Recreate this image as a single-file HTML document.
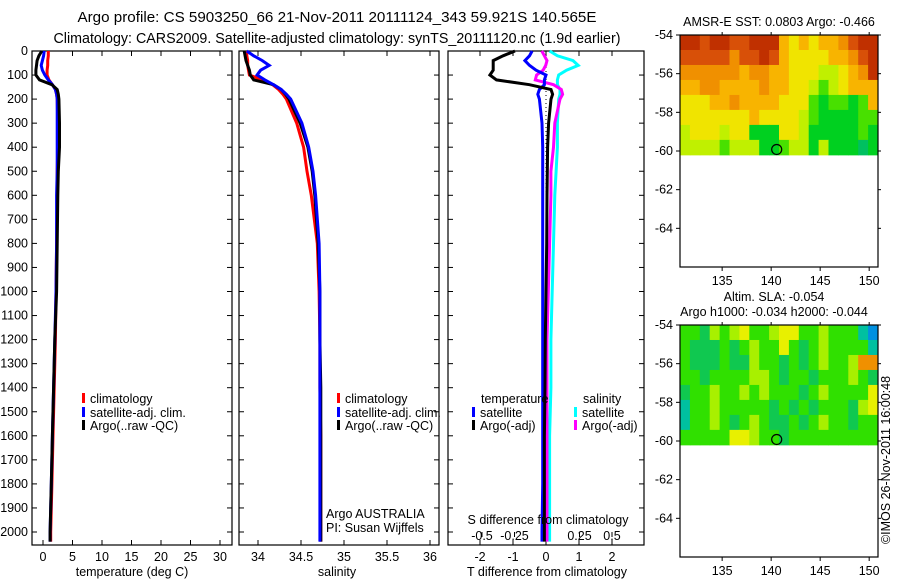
<!DOCTYPE html>
<html><head><meta charset="utf-8"><style>
body{margin:0;background:#fff;}
svg{display:block;font-family:"Liberation Sans",sans-serif;font-size:12px;}
</style></head><body>
<svg id="s" width="900" height="580" viewBox="0 0 900 580">
<rect width="900" height="580" fill="#fff"/>
<text x="337" y="22" text-anchor="middle" font-size="14.5" textLength="519" lengthAdjust="spacingAndGlyphs">Argo profile: CS 5903250_66 21-Nov-2011 20111124_343 59.921S 140.565E</text>
<text x="337" y="43" text-anchor="middle" font-size="14.5" textLength="567" lengthAdjust="spacingAndGlyphs">Climatology: CARS2009. Satellite-adjusted climatology: synTS_20111120.nc (1.9d earlier)</text>
<g id="g"></g>
</svg>
<script>
const depths=[0,20,40,60,80,100,120,140,160,180,200,300,400,500,600,800,1000,1200,1400,1600,1800,2000,2040];
const climT=[0.9,0.9,0.8,0.8,0.7,0.7,1.0,1.6,2.1,2.3,2.4,2.5,2.5,2.4,2.4,2.3,2.2,2.1,1.9,1.7,1.5,1.3,1.3];
const satT=[0.2,0.1,-0.1,-0.3,-0.1,0.3,0.9,1.6,2.1,2.3,2.4,2.4,2.4,2.4,2.3,2.3,2.2,2.0,1.8,1.6,1.4,1.2,1.2];
const argoT=[-0.2,-0.7,-1.0,-1.1,-1.2,-1.2,-0.6,1.5,2.4,2.6,2.7,2.8,2.8,2.6,2.5,2.4,2.3,2.0,1.8,1.6,1.4,1.2,1.2];
const climS=[33.87,33.87,33.88,33.88,33.89,33.90,34.05,34.17,34.24,34.29,34.33,34.45,34.53,34.57,34.62,34.69,34.71,34.72,34.72,34.73,34.73,34.73,34.73];
const satS=[33.87,33.95,34.05,34.13,34.03,33.99,34.08,34.18,34.27,34.33,34.38,34.51,34.59,34.64,34.67,34.71,34.72,34.72,34.72,34.72,34.72,34.72,34.72];
const argoS=[33.84,33.85,33.86,33.88,33.90,33.91,33.95,34.18,34.27,34.32,34.36,34.49,34.58,34.63,34.66,34.70,34.72,34.72,34.73,34.73,34.73,34.73,34.73];
const dTargo=[-0.94,-1.3,-1.6,-1.6,-1.6,-1.7,-1.5,-0.5,0.15,0.2,0.15,0.08,0.05,0.04,0.03,0.02,0.0,-0.02,-0.03,-0.05,-0.05,-0.05,-0.05];
const dTsat=[-0.42,-0.5,-0.64,-0.5,-0.3,0.0,-0.05,-0.05,-0.2,-0.25,-0.2,-0.12,-0.1,-0.1,-0.1,-0.1,-0.1,-0.1,-0.1,-0.1,-0.1,-0.12,-0.12];
const dSargo=[-0.04,-0.02,0.0,-0.01,-0.03,-0.08,-0.09,0.05,0.11,0.12,0.1,0.06,0.05,0.03,0.03,0.02,0.01,0.0,0.0,0.0,0.0,0.0,0.0];
const dSsat=[0.02,0.08,0.2,0.24,0.15,0.09,0.08,0.08,0.1,0.1,0.09,0.08,0.08,0.07,0.06,0.05,0.04,0.03,0.03,0.02,0.02,0.02,0.02];
const depthTicks=[0,100,200,300,400,500,600,700,800,900,1000,1100,1200,1300,1400,1500,1600,1700,1800,1900,2000];
const tTicks=[0,5,10,15,20,25,30];
const sTicks=[34,34.5,35,35.5,36];
const sTickLbl=["34","34.5","35","35.5","36"];
const dtTicks=[-2,-1,0,1,2];
const dsTicks=[-0.5,-0.25,0,0.25,0.5];
const dsTickLbl=["-0.5","-0.25","0","0.25","0.5"];
const latTicks=[-54,-56,-58,-60,-62,-64];
const lonTicks=[135,140,145,150];
const sstRows=["DDRDDRRDDDAYAYAAORDD","RRRRRORRDRAYYYYAAORD","OOOOOOAOOAAYYYLLYAOD","AAOOAAAAOAAYYLGLYAAA","YYYAAOAAAAYYYGgGGgGA","YYYYYYYAYYYYLGggggGG","LYYYLYYgggYYLgggggGg","LLLLGLLLggGLLgLgggTg"];
const slaRows=["GGgLGLYGGLYYGGLGGGCB","GgggGgGLGGYGgGLGGGGC","GgggGggLGGgGgGLGGLOO","GGgGGGGLLGgGGgGGGLGg","gGGLGGLGLGGGgGLGGGGY","CGGLGGGGGgGgGgGGGgLY","CGGLGgGLGggGgGLGGgGG","GGGGGYYLGGgGGGGGGGGG"];
const sstCol={D:"#c03000",R:"#d85008",O:"#f09000",A:"#f8b400",Y:"#f0e400",L:"#c0f000",G:"#48e000",g:"#00d020",T:"#00c060"};
const slaCol={G:"#30e000",g:"#10c850",L:"#a8f000",Y:"#e8f000",O:"#f09000",B:"#0090e0",C:"#00c0a0"};
const argoLon=140.565, argoLat=-59.921;

const NS="http://www.w3.org/2000/svg", G=document.getElementById('g');
function el(t,a,txt){const e=document.createElementNS(NS,t);for(const k in a)e.setAttribute(k,a[k]);if(txt!==undefined)e.textContent=txt;G.appendChild(e);return e;}
const TOP=51,BOT=545;
const yD=d=>TOP+d*0.2405;
const xT=v=>43+v*5.9;
const xS=v=>258+(v-34)*86;
const xDT=v=>546+v*33;
const xDS=v=>547+v*130;
function line(xf,vals,col,name){
  const pts=vals.map((v,i)=>xf(v).toFixed(1)+","+yD(depths[i]).toFixed(1)).join(" ");
  const p=el('polyline',{points:pts,fill:'none',stroke:col,'stroke-width':3});
  
  
}
function frame(x0,x1,name){
  const r=el('rect',{x:x0,y:TOP,width:x1-x0,height:BOT-TOP,fill:'none',stroke:'#000','stroke-width':1.2});
  
  
  depthTicks.forEach(d=>{el('line',{x1:x0,x2:x0+5,y1:yD(d),y2:yD(d),stroke:'#000'});el('line',{x1:x1,x2:x1-5,y1:yD(d),y2:yD(d),stroke:'#000'});});
}
frame(32,232,'temperature-panel');
depthTicks.forEach(d=>{const t=el('text',{x:28,y:yD(d)+4,'text-anchor':'end','font-size':12.5},String(d));

});
tTicks.forEach(v=>{el('line',{x1:xT(v),x2:xT(v),y1:BOT,y2:BOT-5,stroke:'#000'});el('line',{x1:xT(v),x2:xT(v),y1:TOP,y2:TOP+5,stroke:'#000'});
const t=el('text',{x:xT(v),y:561,'text-anchor':'middle','font-size':12.5},String(v));

});
line(xT,climT,'#f00','temp-climatology-line');
line(xT,satT,'#00f','temp-satellite-line');
line(xT,argoT,'#000','temp-argo-line');
frame(239,439,'salinity-panel');
sTicks.forEach((v,i)=>{el('line',{x1:xS(v),x2:xS(v),y1:BOT,y2:BOT-5,stroke:'#000'});el('line',{x1:xS(v),x2:xS(v),y1:TOP,y2:TOP+5,stroke:'#000'});
const t=el('text',{x:xS(v),y:561,'text-anchor':'middle','font-size':12.5},sTickLbl[i]);

});
line(xS,climS,'#f00','sal-climatology-line');
line(xS,argoS,'#000','sal-argo-line');
line(xS,satS,'#00f','sal-satellite-line');
frame(448,644,'difference-panel');
el('line',{x1:xDT(0),x2:xDT(0),y1:TOP,y2:BOT,stroke:'#000','stroke-dasharray':'1,3'});
dtTicks.forEach(v=>{el('line',{x1:xDT(v),x2:xDT(v),y1:BOT,y2:BOT-5,stroke:'#000'});el('line',{x1:xDT(v),x2:xDT(v),y1:TOP,y2:TOP+5,stroke:'#000'});
const t=el('text',{x:xDT(v),y:561,'text-anchor':'middle','font-size':12.5},String(v));

});
dsTicks.forEach((v,i)=>{el('line',{x1:xDS(v),x2:xDS(v),y1:BOT-13,y2:BOT-8,stroke:'#000'});
const t=el('text',{x:xDS(v),y:540,'text-anchor':'middle','font-size':12.5},dsTickLbl[i]);

});
line(xDS,dSsat,'#0ff','sdiff-satellite-line');
line(xDS,dSargo,'#f0f','sdiff-argo-line');
line(xDT,dTsat,'#00f','tdiff-satellite-line');
line(xDT,dTargo,'#000','tdiff-argo-line');
const LON0=130.7,LON1=150.9;
function map(y0,rows,cols,name){
  const x0=680,x1=878,y1=y0+232;
  const ppd=(y1-y0)/12.0;
  const xL=l=>x0+(l-LON0)/(LON1-LON0)*(x1-x0);
  const yL=l=>y0+(-54-l)*ppd;
  const cw=(x1-x0)/20,ch=(yL(-60.2)-y0)/rows.length;
  rows.forEach((r,j)=>{for(let i=0;i<r.length;i++){const c=el('rect',{x:x0+i*cw,y:y0+j*ch,width:cw+0.5,height:ch+0.5,fill:cols[r[i]]});
  
  }});
  const f=el('rect',{x:x0,y:y0,width:x1-x0,height:y1-y0,fill:'none',stroke:'#000','stroke-width':1.2});
  
  
  latTicks.forEach(l=>{el('line',{x1:x0-4,x2:x0,y1:yL(l),y2:yL(l),stroke:'#000'});el('line',{x1:x1,x2:x1+3,y1:yL(l),y2:yL(l),stroke:'#000'});
  const t=el('text',{x:673,y:yL(l)+4,'text-anchor':'end','font-size':12.5},String(l));
  
  });
  lonTicks.forEach(l=>{el('line',{x1:xL(l),x2:xL(l),y1:y1,y2:y1+4,stroke:'#000'});el('line',{x1:xL(l),x2:xL(l),y1:y0-3,y2:y0,stroke:'#000'});
  const t=el('text',{x:xL(l),y:y1+18,'text-anchor':'middle','font-size':12.5},String(l));
  
  });
  const c=el('circle',{cx:xL(argoLon),cy:yL(argoLat),r:5,fill:'none',stroke:'#000','stroke-width':1.2});
  
  
}
map(35,sstRows,sstCol,'sst-map');
map(325,slaRows,slaCol,'sla-map');
</script>
<div style="position:absolute;left:0;top:0;width:900px;height:580px;pointer-events:none;font-family:'Liberation Sans',sans-serif;font-size:12.5px;">
<div style="position:absolute;left:132px;top:565px;transform:translateX(-50%);white-space:nowrap">temperature (deg C)</div>
<div style="position:absolute;left:337px;top:565px;transform:translateX(-50%)">salinity</div>
<div style="position:absolute;left:547px;top:565px;transform:translateX(-50%);white-space:nowrap">T difference from climatology</div>
<div style="position:absolute;left:548px;top:513px;transform:translateX(-50%);white-space:nowrap">S difference from climatology</div>
<div style="position:absolute;left:82px;top:393px;line-height:13.5px">
<div><span style="display:inline-block;width:3px;height:10px;background:#f00;margin-right:5px"></span>climatology</div>
<div><span style="display:inline-block;width:3px;height:10px;background:#00f;margin-right:5px"></span>satellite-adj. clim.</div>
<div><span style="display:inline-block;width:3px;height:10px;background:#000;margin-right:5px"></span>Argo(..raw -QC)</div></div>
<div style="position:absolute;left:337px;top:393px;line-height:13.5px">
<div><span style="display:inline-block;width:3px;height:10px;background:#f00;margin-right:5px"></span>climatology</div>
<div><span style="display:inline-block;width:3px;height:10px;background:#00f;margin-right:5px"></span>satellite-adj. clim.</div>
<div><span style="display:inline-block;width:3px;height:10px;background:#000;margin-right:5px"></span>Argo(..raw -QC)</div></div>
<div style="position:absolute;left:472px;top:393px;line-height:13.5px">
<div style="padding-left:9px">temperature</div>
<div><span style="display:inline-block;width:3px;height:10px;background:#00f;margin-right:5px"></span>satellite</div>
<div><span style="display:inline-block;width:3px;height:10px;background:#000;margin-right:5px"></span>Argo(-adj)</div></div>
<div style="position:absolute;left:574px;top:393px;line-height:13.5px">
<div style="padding-left:9px">salinity</div>
<div><span style="display:inline-block;width:3px;height:10px;background:#0ff;margin-right:5px"></span>satellite</div>
<div><span style="display:inline-block;width:3px;height:10px;background:#f0f;margin-right:5px"></span>Argo(-adj)</div></div>
<div style="position:absolute;left:326px;top:507px;line-height:14px">Argo AUSTRALIA<br>PI: Susan Wijffels</div>
<div style="position:absolute;left:779px;top:15px;transform:translateX(-50%);white-space:nowrap">AMSR-E SST: 0.0803 Argo: -0.466</div>
<div style="position:absolute;left:774px;top:290px;transform:translateX(-50%);white-space:nowrap;text-align:center;line-height:15px">Altim. SLA: -0.054<br>Argo h1000: -0.034 h2000: -0.044</div>
<div style="position:absolute;left:886px;top:460px;transform:translate(-50%,-50%) rotate(-90deg);white-space:nowrap">©IMOS 26-Nov-2011 16:00:48</div>
</div>
</body></html>
